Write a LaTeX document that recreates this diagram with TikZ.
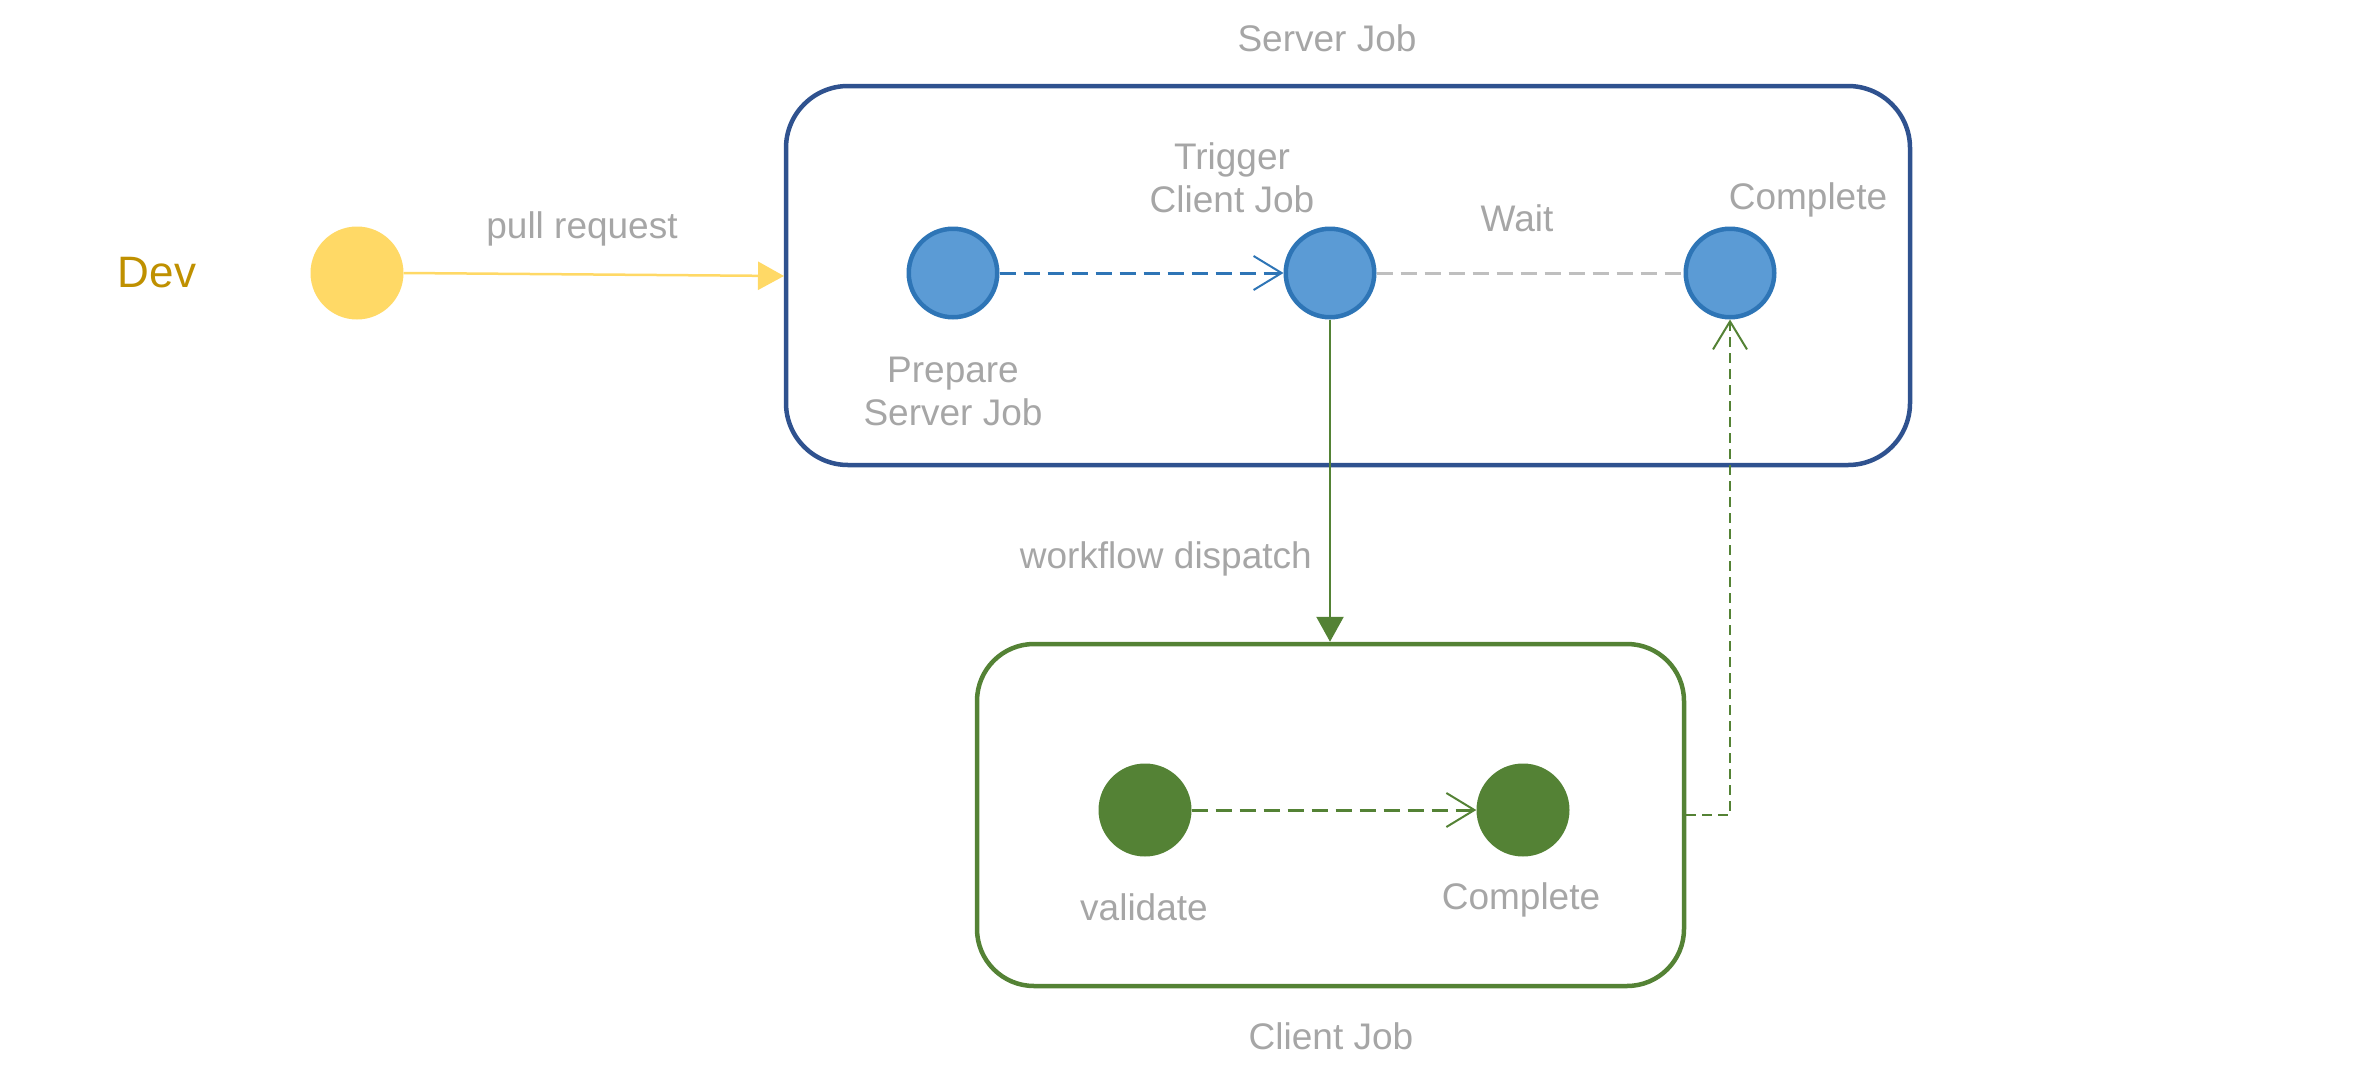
\documentclass[tikz,border=0pt]{standalone}
\usepackage{fontspec}
\setmainfont{Liberation Sans}
\usetikzlibrary{arrows.meta}
\definecolor{txtgrey}{HTML}{A6A6A6}
\definecolor{devgold}{HTML}{BF9000}
\definecolor{devyellow}{HTML}{FFD966}
\definecolor{bluefill}{HTML}{5B9BD5}
\definecolor{bluedraw}{HTML}{2E75B6}
\definecolor{serverblue}{HTML}{2F528F}
\definecolor{clientgreen}{HTML}{548235}
\definecolor{waitgrey}{HTML}{BFBFBF}
\begin{document}
\begin{tikzpicture}[x=1pt,y=-1pt,
  lbl/.style={text=txtgrey, font=\fontsize{37}{43}\selectfont, align=center, inner sep=0pt},
  bluestate/.style={circle, fill=bluefill, draw=bluedraw, line width=4.5pt, minimum size=88.5pt, inner sep=0pt},
  greenstate/.style={circle, fill=clientgreen, minimum size=93pt, inner sep=0pt},
  jobbox/.style={rectangle, line width=4.5pt, fill=none, inner sep=0pt},
  openarrow/.style={-{Straight Barb[length=28pt,width=34pt,line width=2pt]}},
  dashlong/.style={dash pattern=on 16pt off 8pt},
  dashshort/.style={dash pattern=on 10pt off 6pt}]
\useasboundingbox (0,0) rectangle (2364,1079);

% job boxes
\node[jobbox, rounded corners=62pt, draw=serverblue, minimum width=1124pt, minimum height=379pt] (server) at (1348,275.5) {};
\node[jobbox, rounded corners=57pt, draw=clientgreen, minimum width=707pt, minimum height=342pt] (client) at (1330.5,815) {};
\node[lbl] (servertitle) at (1327,38) {Server Job};
\node[lbl] (clienttitle) at (1331,1036) {Client Job};

% dev
\node[text=devgold, font=\fontsize{44}{50}\selectfont, inner sep=0pt] (devlbl) at (157,273) {Dev};
\node[circle, fill=devyellow, minimum size=93pt, inner sep=0pt] (dev) at (357,273) {};
\coordinate (prin) at (784,276);
\draw[devyellow, line width=2.5pt, -{Triangle[length=26pt,width=28pt]}] (dev.east) -- (prin);
\node[lbl] (prlbl) at (582,229) {pull request};

% server states
\node[bluestate] (prep) at (953,273) {};
\node[bluestate] (trig) at (1330,273) {};
\node[bluestate] (scomp) at (1730,273) {};
\node[lbl] (preplbl) at (953,391) {Prepare\\Server Job};
\node[lbl] (triglbl) at (1232,178) {Trigger\\Client Job};
\node[lbl] (scomplbl) at (1808,200) {Complete};
\node[lbl] (waitlbl) at (1517,218) {Wait};

\draw[bluedraw, line width=3pt, dashlong, openarrow] (prep.east) -- (trig.west);
\draw[waitgrey, line width=3pt, dashlong] (trig.east) -- (scomp.west);

% client states
\node[greenstate] (valid) at (1145,810) {};
\node[greenstate] (ccomp) at (1523,810) {};
\node[lbl] (validlbl) at (1144,907) {validate};
\node[lbl] (ccomplbl) at (1521,900) {Complete};
\draw[clientgreen, line width=3pt, dashlong, openarrow] (valid.east) -- (ccomp.west);

% dispatch
\draw[clientgreen, line width=2.5pt, -{Triangle[length=25pt,width=27pt]}] (trig.south) -- (trig.south |- client.north);
\node[lbl, anchor=east] (displbl) at (1312,559) {workflow dispatch};

% return
\draw[clientgreen, line width=2pt, dashshort, openarrow] (client.east) -| (scomp.south);
\end{tikzpicture}
\end{document}
